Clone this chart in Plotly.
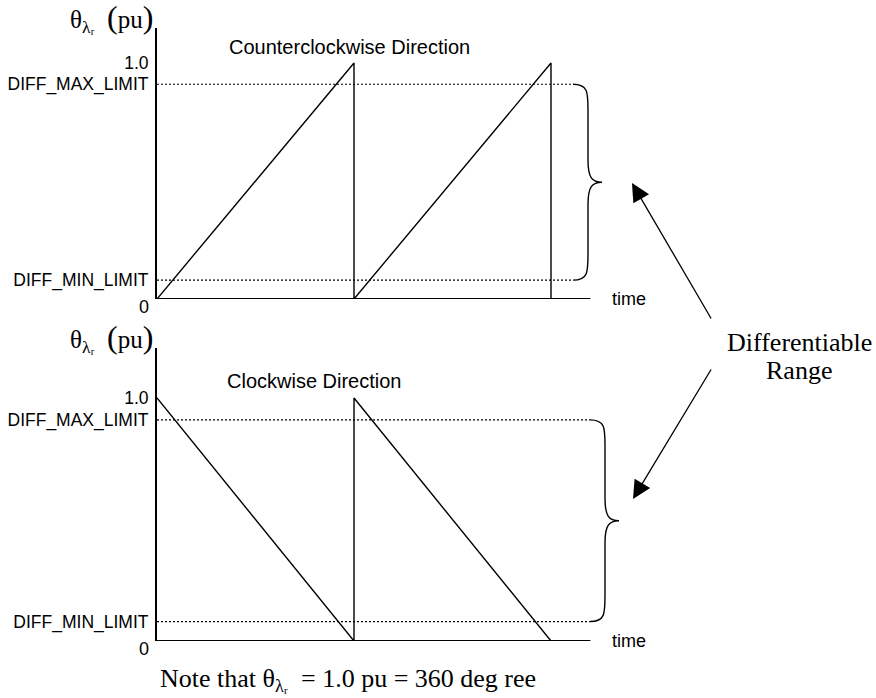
import plotly.graph_objects as go

# ---- data -------------------------------------------------------------
# time in electrical periods, angle in per unit
ccw_time = [0, 1, 1, 2, 2]
ccw_theta = [0, 1.0, 0, 1.0, 0]
cw_time = [0, 1, 1, 2]
cw_theta = [1.0, 0, 1.0, 0]

diff_max = 0.91
diff_min = 0.08
tick_vals = [diff_min, diff_max, 1.0]
tick_text = ["DIFF_MIN_LIMIT", "DIFF_MAX_LIMIT", "1.0"]
time_end = 2.2

# ---- layout helpers ---------------------------------------------------
W, H = 876, 698
SANS = "Liberation Sans, Arial, sans-serif"
SERIF = "Liberation Serif, Times New Roman, serif"
PX_PER_T = 197.0


def px(x):
    return x / W


def py(y):
    return 1 - y / H


fig = go.Figure()

panels = [
    # (xaxis, yaxis, time, theta, bottom px, top px, px per pu, brace start px)
    ("x", "y", ccw_time, ccw_theta, 299, 28, 236.0, 573),
    ("x2", "y2", cw_time, cw_theta, 641, 348, 243.0, 590),
]

for xa, ya, t, th, ybot_px, ytop_px, ppu, brace_px in panels:
    brace_t0 = (brace_px - 157) / PX_PER_T
    # baseline
    fig.add_trace(go.Scatter(x=[0, time_end], y=[0, 0], mode="lines",
                             line=dict(color="black", width=2),
                             xaxis=xa, yaxis=ya, hoverinfo="skip"))
    # limit lines
    for lv in (diff_max, diff_min):
        fig.add_trace(go.Scatter(x=[0, brace_t0], y=[lv, lv], mode="lines",
                                 line=dict(color="black", width=1.2, dash="2px,2px"),
                                 xaxis=xa, yaxis=ya, hoverinfo="skip"))
    # sawtooth
    fig.add_trace(go.Scatter(x=t, y=th, mode="lines",
                             line=dict(color="black", width=1.4),
                             xaxis=xa, yaxis=ya, hoverinfo="skip"))

    # curly brace spanning the differentiable range
    tb = brace_t0 + 15 / PX_PER_T
    tt = brace_t0 + 29 / PX_PER_T
    d = 26 / ppu
    dm = 22 / ppu
    ym = (diff_max + diff_min) / 2
    path = (
        f"M {brace_t0},{diff_max} "
        f"C {tb},{diff_max} {tb},{diff_max - d * 0.3} {tb},{diff_max - d} "
        f"L {tb},{ym + dm} "
        f"C {tb},{ym + dm * 0.2} {tb + (tt - tb) * 0.3},{ym} {tt},{ym} "
        f"C {tb + (tt - tb) * 0.3},{ym} {tb},{ym - dm * 0.2} {tb},{ym - dm} "
        f"L {tb},{diff_min + d} "
        f"C {tb},{diff_min + d * 0.3} {tb},{diff_min} {brace_t0},{diff_min}"
    )
    fig.add_shape(type="path", path=path, xref=xa, yref=ya,
                  line=dict(color="black", width=1.4))

    # "0" label sits just under the baseline
    fig.add_annotation(x=px(151), y=0, xref="paper", yref=ya, text="0",
                       showarrow=False, xanchor="right", yanchor="middle", yshift=-8,
                       font=dict(family=SANS, size=18, color="black"))
    # time label
    fig.add_annotation(x=(610 - 157) / PX_PER_T, y=0, xref=xa, yref=ya, text="time",
                       showarrow=False, xanchor="left", yanchor="middle",
                       font=dict(family=SANS, size=18, color="black"))
    # y label
    fig.add_annotation(x=px(155), y=py(ytop_px - 10), xref="paper", yref="paper",
                       text="θ<sub>λᵣ</sub>  <span style='font-size:32px'>(</span>pu"
                            "<span style='font-size:32px'>)</span>",
                       showarrow=False, xanchor="right", yanchor="middle",
                       font=dict(family=SERIF, size=25, color="black"))

# panel titles
fig.add_annotation(x=(349 - 157) / PX_PER_T, y=(299 - 47) / 236.0, xref="x", yref="y",
                   text="Counterclockwise Direction", showarrow=False,
                   font=dict(family=SANS, size=20, color="black"))
fig.add_annotation(x=(314 - 157) / PX_PER_T, y=(641 - 381) / 243.0, xref="x2", yref="y2",
                   text="Clockwise Direction", showarrow=False,
                   font=dict(family=SANS, size=20, color="black"))

# arrows pointing to the braces
fig.add_annotation(x=px(632), y=py(183), xref="paper", yref="paper", text="",
                   showarrow=True, ax=80, ay=137, arrowhead=2, arrowsize=2.8,
                   arrowwidth=1.3, arrowcolor="black")
fig.add_annotation(x=px(633), y=py(499), xref="paper", yref="paper", text="",
                   showarrow=True, ax=79, ay=-131, arrowhead=2, arrowsize=2.8,
                   arrowwidth=1.3, arrowcolor="black")
for word, ypix in (("Differentiable", 342), ("Range", 370)):
    fig.add_annotation(x=px(799), y=py(ypix), xref="paper", yref="paper",
                       text=word, showarrow=False,
                       xanchor="center", yanchor="middle",
                       font=dict(family=SERIF, size=26, color="black"))

# note
fig.add_annotation(x=px(348), y=py(680), xref="paper", yref="paper",
                   text="Note that θ<sub>λᵣ</sub>  = 1.0 pu = 360 deg ree",
                   showarrow=False, xanchor="center", yanchor="middle",
                   font=dict(family=SERIF, size=26, color="black"))

x_range = [0, (700 - 157) / PX_PER_T]
xcommon = dict(range=x_range, domain=[px(157), px(700)], showgrid=False,
               zeroline=False, showticklabels=False, showline=False, fixedrange=True)
ycommon = dict(showgrid=False, zeroline=False, showline=True, linecolor="black",
               linewidth=2, tickvals=tick_vals, ticktext=tick_text, ticks="outside",
               ticklen=3, tickcolor="rgba(0,0,0,0)",
               tickfont=dict(family=SANS, size=17.5, color="black"), fixedrange=True)

fig.update_layout(
    width=W, height=H, margin=dict(l=0, r=0, t=0, b=0),
    paper_bgcolor="white", plot_bgcolor="white", showlegend=False,
    xaxis=dict(**xcommon, anchor="y"),
    yaxis=dict(**ycommon, anchor="x", domain=[py(299), py(28)], range=[0, 271 / 236.0]),
    xaxis2=dict(**xcommon, anchor="y2"),
    yaxis2=dict(**ycommon, anchor="x2", domain=[py(641), py(348)], range=[0, 293 / 243.0]),
)

fig.write_html("out.html")
